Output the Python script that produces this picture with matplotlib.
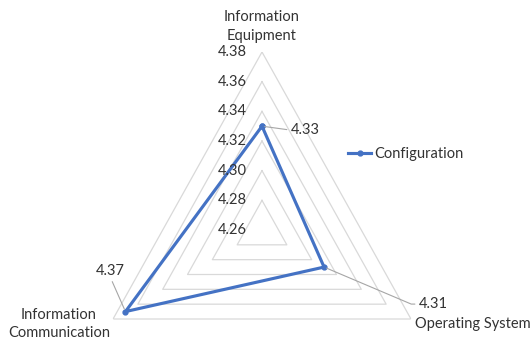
import numpy as np
import matplotlib.pyplot as plt

categories = ["Information\nEquipment", "Operating System", "Information\nCommunication"]
scores = [4.33, 4.31, 4.37]
series_name = "Configuration"
r_ticks = [4.26, 4.28, 4.30, 4.32, 4.34, 4.36, 4.38]

line_color = "#4472C4"
grid_color = "#D9D9D9"
text_color = "#333333"
leader_color = "#A6A6A6"

plt.rcParams["font.family"] = ["Lato", "DejaVu Sans"]
plt.rcParams["font.size"] = 10.5

W, H = 531, 341
fig = plt.figure(figsize=(W / 100, H / 100), dpi=100)

# polar axes box, slightly taller than wide like the spreadsheet radar
cx, cy, rx, ry = 262, 230, 172, 178
ax = fig.add_axes([(cx - rx) / W, 1 - (cy + ry) / H, 2 * rx / W, 2 * ry / H],
                  projection="polar")
ax.set_aspect("auto")
ax.set_theta_offset(np.pi / 2)
ax.set_theta_direction(-1)
ax.set_ylim(r_ticks[0], r_ticks[-1])
ax.grid(False)
ax.spines["polar"].set_visible(False)
ax.set_xticks([])
ax.set_yticks([])
ax.patch.set_alpha(0)

angles = np.linspace(0, 2 * np.pi, len(categories), endpoint=False)
closed = np.append(angles, angles[0])

# triangular gridlines
for level in r_ticks[1:]:
    ax.plot(closed, [level] * len(closed), color=grid_color, lw=0.9, zorder=1)

ax.plot(closed, scores + scores[:1], color=line_color, lw=2.25, marker="o",
        ms=3.5, label=series_name, zorder=3)

# value axis labels along the top spoke
for v in r_ticks:
    ax.annotate(f"{v:.2f}", xy=(0, v), xytext=(-15, 0), textcoords="offset pixels",
                ha="right", va="center", color=text_color)

# category labels
ax.annotate(categories[0], xy=(angles[0], r_ticks[-1]), xytext=(0, 9),
            textcoords="offset pixels", ha="center", va="bottom",
            multialignment="center", linespacing=1.45, color=text_color)
ax.annotate(categories[1], xy=(angles[1], r_ticks[-1]), xytext=(4, -5),
            textcoords="offset pixels", ha="left", va="center", color=text_color)
ax.annotate(categories[2], xy=(angles[2], r_ticks[-1]), xytext=(-3, -5),
            textcoords="offset pixels", ha="right", va="center",
            multialignment="center", linespacing=1.35, color=text_color)

# data labels with leader lines
lead = dict(arrowstyle="-", color=leader_color, lw=0.8, shrinkA=1, shrinkB=2)
ax.annotate(f"{scores[0]:.2f}", xy=(angles[0], scores[0]), xytext=(29, -4),
            textcoords="offset pixels", ha="left", va="center", color=text_color,
            arrowprops=dict(lead, relpos=(0, 0.5)))
ax.annotate(f"{scores[1]:.2f}", xy=(angles[1], scores[1]), xytext=(95, -37),
            textcoords="offset pixels", ha="left", va="center", color=text_color,
            arrowprops=dict(lead, relpos=(0, 0.5),
                            connectionstyle="angle,angleA=0,angleB=-23,rad=0"))
ax.annotate(f"{scores[2]:.2f}", xy=(angles[2], scores[2]), xytext=(-15, 41),
            textcoords="offset pixels", ha="center", va="center", color=text_color,
            arrowprops=dict(lead, relpos=(0.5, 0)))

fig.legend(loc="center left", bbox_to_anchor=(348 / W, 1 - 154 / H), frameon=False,
           handlelength=1.6, handletextpad=0.2, borderpad=0, borderaxespad=0,
           labelcolor=text_color)

fig.savefig("out.png", dpi=100)
